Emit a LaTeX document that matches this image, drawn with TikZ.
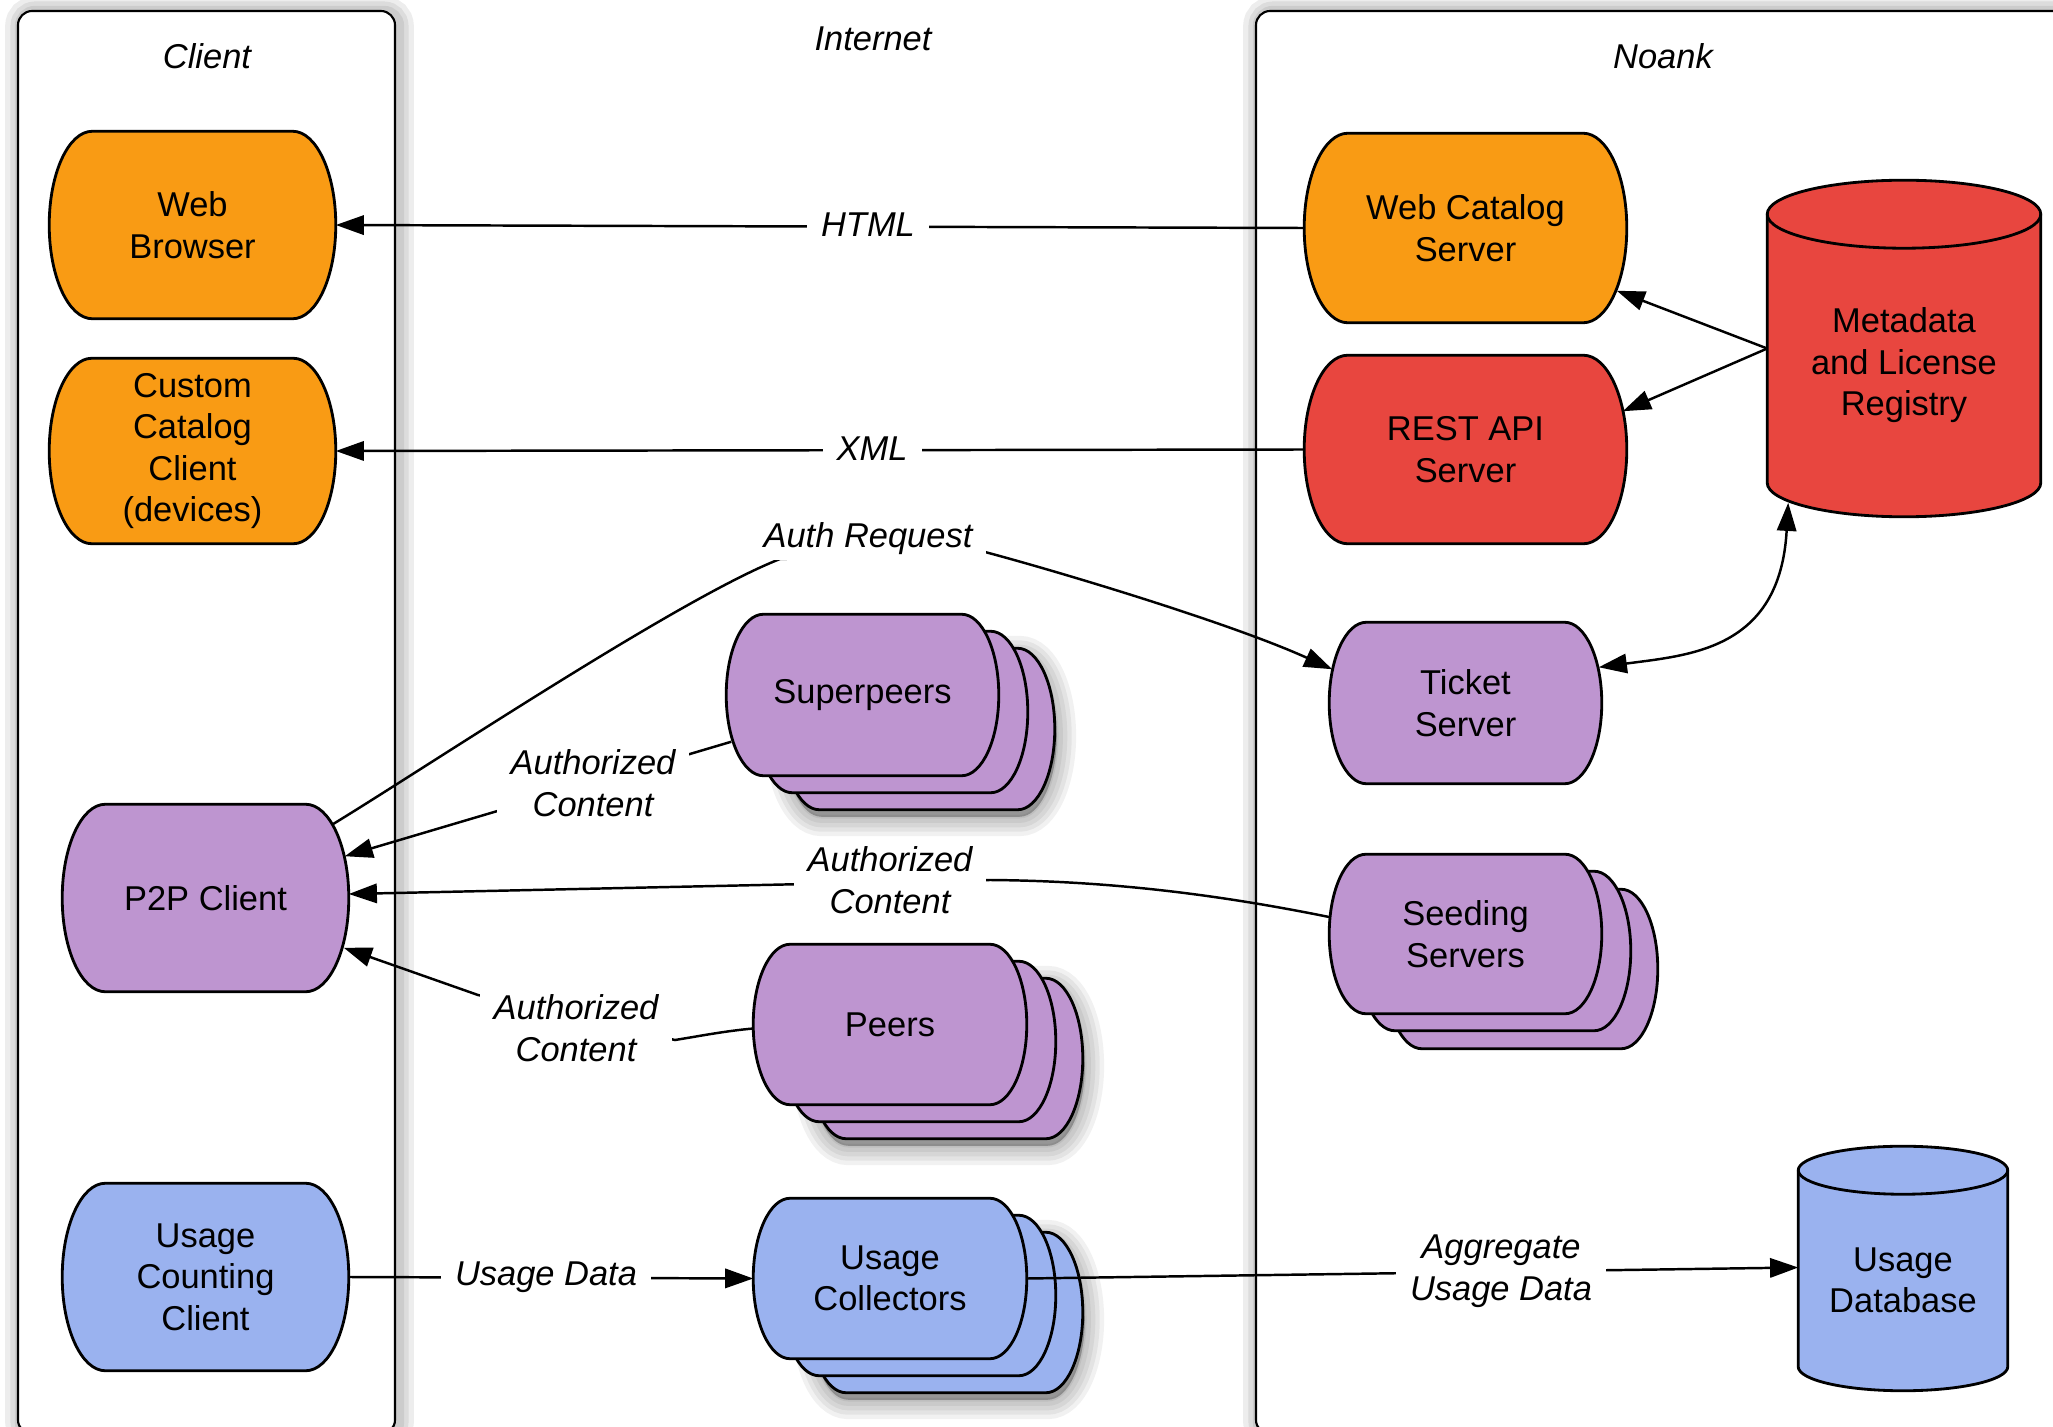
\documentclass[tikz,border=0pt]{standalone}
\usepackage{fontspec}
\setmainfont{Liberation Sans}
\usetikzlibrary{arrows.meta,calc}

\pgfdeclarelayer{lanes}
\pgfdeclarelayer{shapes}
\pgfsetlayers{lanes,shapes,main}

\definecolor{procorange}{HTML}{F99B14}
\definecolor{procred}{HTML}{E8463F}
\definecolor{procpurple}{HTML}{BE95D0}
\definecolor{procblue}{HTML}{9AB2EF}

\newcommand\basefont{\fontsize{9.8pt}{11.8pt}\selectfont}

\tikzset{
  every node/.style={font=\basefont},
  outline/.style={draw=black, line width=0.8pt},
  proc/.style={inner sep=0pt, align=center},
  lbl/.style={fill=white, inner xsep=4pt, inner ysep=1.5pt, align=center,
              font=\basefont\itshape},
  lanetitle/.style={font=\basefont\itshape},
  arr/.style={line width=0.7pt, -{Triangle[length=8pt,width=5.5pt]}},
  dblarr/.style={line width=0.7pt,
                 {Triangle[length=8pt,width=5.5pt]}-{Triangle[length=8pt,width=5.5pt]}},
  lane/.style={draw=black, line width=0.6pt, fill=white, rounded corners=4pt},
  laneshadow/.style={draw=black, draw opacity=0.07, rounded corners=4pt},
  softshadow/.style={fill=black, draw=black, fill opacity=0.055, draw opacity=0.055},
}

% process box path: flat top and bottom, quarter-ellipse sides;
% #1 offset of the copy, #2 node
\newcommand\procpath[2]{%
  let \p1=($(#2.north west)+#1$), \p2=($(#2.south east)+#1$), \p3=(0pt,\y1-\y2) in
    (\x1+0.23*\y3,\y1) -- (\x2-0.23*\y3,\y1)
    .. controls (\x2-0.103*\y3,\y1) and (\x2,\y1-0.224*\y3) .. (\x2,\y1-0.5*\y3)
    .. controls (\x2,\y2+0.224*\y3) and (\x2-0.103*\y3,\y2) .. (\x2-0.23*\y3,\y2)
    -- (\x1+0.23*\y3,\y2)
    .. controls (\x1+0.103*\y3,\y2) and (\x1,\y2+0.224*\y3) .. (\x1,\y1-0.5*\y3)
    .. controls (\x1,\y1-0.224*\y3) and (\x1+0.103*\y3,\y1) .. (\x1+0.23*\y3,\y1)
    -- cycle}

% filled outline of a box (or of one copy in a stack)
\newcommand\procoutline[3][(0,0)]{%
  \begin{pgfonlayer}{shapes}
  \filldraw[outline,fill=#3] \procpath{#1}{#2};
  \end{pgfonlayer}}

% soft shadow beneath a stack of boxes
\newcommand\procshadow[2][(0,0)]{%
  \begin{pgfonlayer}{shapes}
  \foreach \w in {11pt,8.5pt,6pt,3.5pt,1pt}{
    \filldraw[softshadow, line width=\w] \procpath{#1}{#2};
  }
  \end{pgfonlayer}}

% cylinder: node box is the body from the top ellipse centre line down;
% #1 node, #2 fill colour, #3 vertical radius of the ends
\newcommand\cylshape[3]{%
  \begin{pgfonlayer}{shapes}
  \filldraw[outline,fill=#2]
    let \p1=(#1.north west), \p2=(#1.south east), \p3=(0.5*\x2-0.5*\x1,0pt) in
    (\x1,\y1) -- (\x1,\y2+#3)
    arc[start angle=180,end angle=360,x radius=\x3,y radius=#3]
    -- (\x2,\y1)
    arc[start angle=0,end angle=180,x radius=\x3,y radius=#3] -- cycle;
  \draw[outline]
    let \p1=(#1.north west), \p2=(#1.south east), \p3=(0.5*\x2-0.5*\x1,0pt) in
    (\x1,\y1) arc[start angle=180,end angle=360,x radius=\x3,y radius=#3];
  \end{pgfonlayer}}

\begin{document}
\begin{tikzpicture}[x=0.01cm, y=-0.01cm]
\useasboundingbox (0,0) rectangle (2053,1427);

% page background and swim lanes
\begin{pgfonlayer}{lanes}
  \fill[white] (0,0) rectangle (2053,1427);
  \foreach \w in {9pt,6pt,3.5pt}{
    \draw[laneshadow, line width=\w] (21,12) rectangle (398,1436);
    \draw[laneshadow, line width=\w] (1259,12) rectangle (2083,1436);
  }
  \draw[lane] (18,11) rectangle (395,1434);
  \draw[lane] (1256,11) rectangle (2080,1434);
\end{pgfonlayer}
\node[lanetitle] (tclient) at (207,56) {Client};
\node[lanetitle] (tinternet) at (873,39) {Internet};
\node[lanetitle] (tnoank) at (1663,56) {Noank};

% client side
\node[proc, minimum width=2.85cm, minimum height=1.86cm] (wb) at (192.5,225) {Web\\Browser};
\procoutline{wb}{procorange}
\node[proc, minimum width=2.85cm, minimum height=1.84cm] (ccc) at (192.5,451) {Custom\\Catalog\\Client\\(devices)};
\procoutline{ccc}{procorange}
\node[proc, minimum width=2.85cm, minimum height=1.86cm] (p2p) at (205.5,898) {P2P Client};
\procoutline{p2p}{procpurple}
\node[proc, minimum width=2.85cm, minimum height=1.86cm] (ucc) at (205.5,1277) {Usage\\Counting\\Client};
\procoutline{ucc}{procblue}

% internet: stacked groups
\node[proc, minimum width=2.71cm, minimum height=1.60cm] (sp) at (862.5,695) {Superpeers};
\procshadow[(58,41)]{sp}
\procoutline[(56,34)]{sp}{procpurple}
\procoutline[(29,17)]{sp}{procpurple}
\procoutline{sp}{procpurple}
\node[proc, minimum width=2.72cm, minimum height=1.59cm] (pe) at (890,1024.5) {Peers};
\procshadow[(58,41)]{pe}
\procoutline[(56,34)]{pe}{procpurple}
\procoutline[(29,17)]{pe}{procpurple}
\procoutline{pe}{procpurple}
\node[proc, minimum width=2.72cm, minimum height=1.59cm] (uc) at (890,1278.5) {Usage\\Collectors};
\procshadow[(58,41)]{uc}
\procoutline[(56,34)]{uc}{procblue}
\procoutline[(29,17)]{uc}{procblue}
\procoutline{uc}{procblue}

% Noank side
\node[proc, minimum width=3.21cm, minimum height=1.88cm] (wcs) at (1465.5,228) {Web Catalog\\Server};
\procoutline{wcs}{procorange}
\node[proc, minimum width=3.21cm, minimum height=1.87cm] (rest) at (1465.5,449.5) {REST API\\Server};
\procoutline{rest}{procred}
\node[proc, minimum width=2.71cm, minimum height=1.60cm] (tk) at (1465.5,703) {Ticket\\Server};
\procoutline{tk}{procpurple}
\node[proc, minimum width=2.71cm, minimum height=1.58cm] (sv) at (1465.5,934) {Seeding\\Servers};
\procoutline[(56,35)]{sv}{procpurple}
\procoutline[(29,17)]{sv}{procpurple}
\procoutline{sv}{procpurple}
\node[proc, minimum width=2.72cm, minimum height=3.01cm] (meta) at (1904,365.5) {Metadata\\and License\\Registry};
\cylshape{meta}{procred}{9.67pt}
\node[proc, minimum width=2.08cm, minimum height=2.19cm] (udb) at (1903,1280.5) {Usage\\Database};
\cylshape{udb}{procblue}{6.83pt}

% connectors
\draw[arr] (wcs.west) -- (wb.east);
\draw[arr] (rest.west) -- (ccc.east);
\coordinate (mw) at ($(meta.west)+(0,-17)$);
\draw[arr] (mw) -- ($(wcs.south east)+(-10,-32)$);
\draw[arr] (mw) -- ($(rest.north east)+(-4,56)$);
\draw[dblarr] ($(tk.north east)+(-3,45)$) .. controls (1690,655) and (1780,650) .. ($(meta.south west)+(21,-14)$);
\draw[arr] ($(p2p.north east)+(-16,20)$) .. controls (430,765) and (680,598) .. (780,559)
  -- (985,552) .. controls (1060,572) and (1230,623) .. ($(tk.north west)+(3,47)$);
\draw[arr] ($(sp.south west)+(5,-34)$) -- ($(p2p.north east)+(-4,52)$);
\draw[arr] ($(sv.west)+(0,-17)$) .. controls (1230,897) and (1120,881) .. (990,880)
  -- ($(p2p.east)+(0,-4)$);
\draw[arr] ($(pe.west)+(0,4)$) .. controls (725,1031) and (700,1036) .. (675,1040)
  -- (478,995) -- ($(p2p.south east)+(-5,-44)$);
\draw[arr] (ucc.east) -- (uc.west);
\draw[arr] (uc.east) -- ($(udb.west)+(0,-13)$);

% connector labels
\node[lbl] (lhtml) at (868,225) {HTML};
\node[lbl] (lxml) at (872,449) {XML};
\node[lbl] (lauth) at (868,539) {Auth Request};
\node[lbl] (lsp) at (593,783) {Authorized\\Content};
\node[lbl] (lsv) at (890,880) {Authorized\\Content};
\node[lbl] (lpe) at (576,1028) {Authorized\\Content};
\node[lbl] (lusage) at (546,1277) {Usage Data};
\node[lbl] (lagg) at (1501,1271) {Aggregate\\Usage Data};
\end{tikzpicture}
\end{document}
